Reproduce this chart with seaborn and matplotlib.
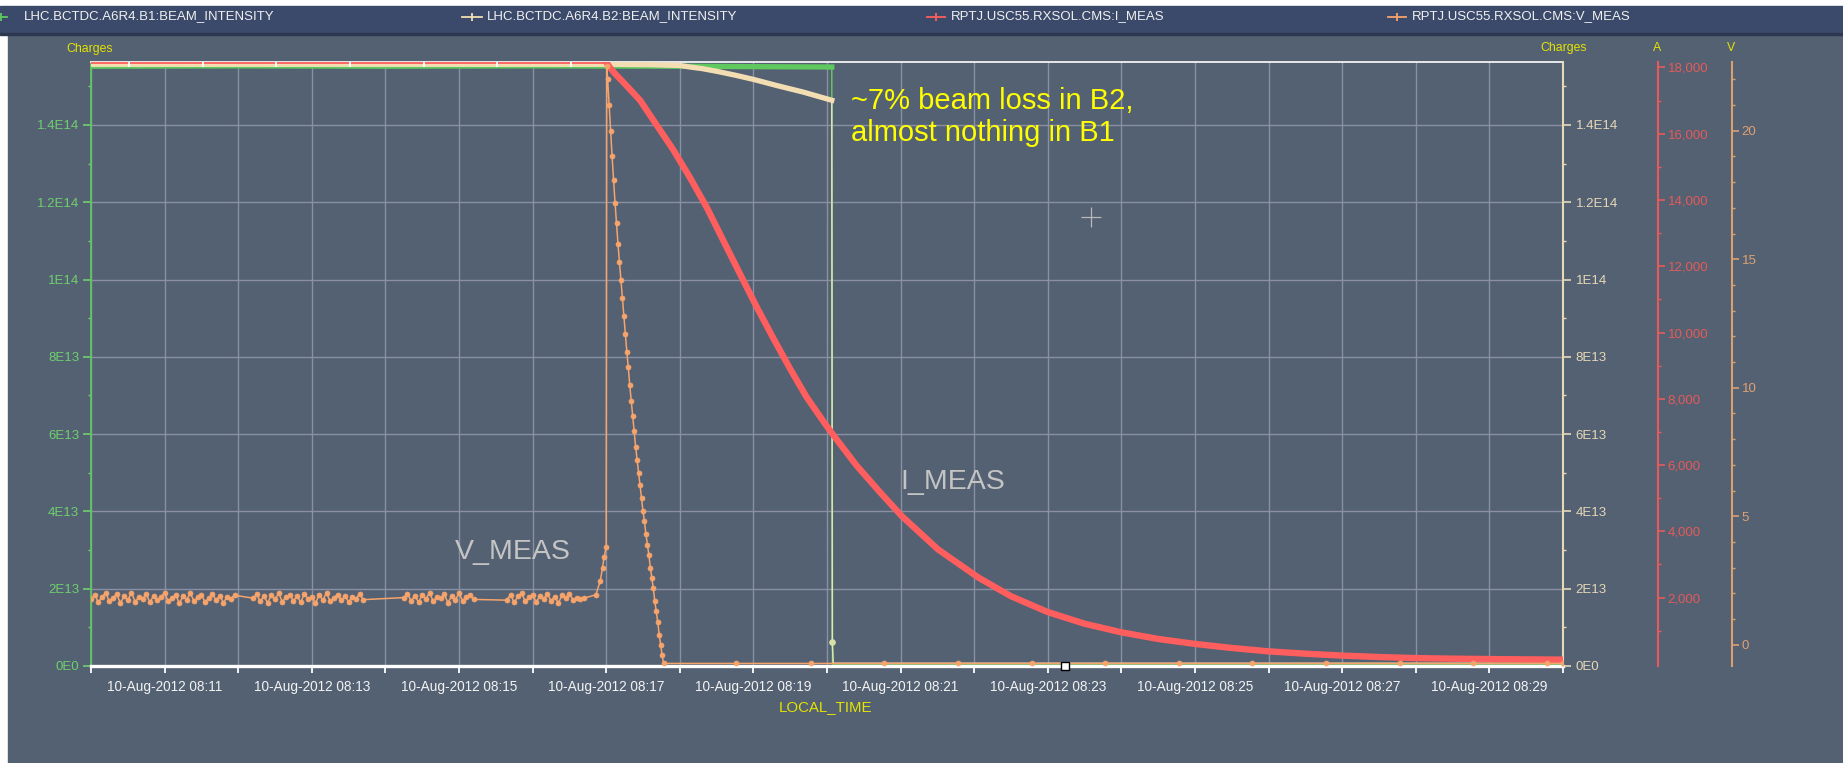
import numpy as np
import pandas as pd
import matplotlib
matplotlib.use("Agg")
import matplotlib.pyplot as plt
import matplotlib.dates as mdates
from matplotlib.ticker import FuncFormatter, FixedLocator, MultipleLocator
from matplotlib.patches import Rectangle
from matplotlib.lines import Line2D
import seaborn as sns

plt.rcParams['font.family'] = ['Liberation Sans', 'DejaVu Sans']

# ---- data (time in minutes after 10-Aug-2012 08:10:00) ----
T0 = pd.Timestamp("2012-08-10 08:10:00")

# B1 beam intensity (charges)
b1_min = [0.0, 2.0, 4.0, 6.0, 8.0, 9.0, 10.065, 10.075, 20.0]
b1_val = [1.552e14, 1.553e14, 1.552e14, 1.553e14, 1.552e14, 1.551e14, 1.550e14, 0.005e14, 0.005e14]

# B2 beam intensity (charges)
b2_min = [0.0, 2.0, 4.0, 6.0, 7.0, 7.6, 8.0, 8.14, 8.3, 8.5, 8.75, 9.0, 9.32, 9.68,
          10.065, 10.072, 10.085, 20.0]
b2_val = [1.557e14, 1.557e14, 1.557e14, 1.557e14, 1.557e14, 1.556e14, 1.554e14, 1.550e14,
          1.546e14, 1.539e14, 1.529e14, 1.518e14, 1.502e14, 1.485e14, 1.464e14,
          0.061e14, 0.007e14, 0.007e14]

# solenoid current I_MEAS (A)
i_min = [0.0, 0.52, 1.52, 2.52, 3.52, 4.52, 5.52, 6.52,
         7.007, 7.05, 7.12, 7.23, 7.46, 7.68, 7.91, 8.14, 8.37, 8.59, 8.82, 9.04, 9.27,
         9.50, 9.72, 9.95, 10.08, 10.40, 10.72, 11.02, 11.51, 12.06, 12.50, 12.99, 13.50,
         14.00, 14.50, 15.00, 15.50, 16.00, 16.50, 17.00, 17.50, 18.00, 18.50, 19.00,
         19.50, 20.00]
i_val = [18140, 18140, 18140, 18140, 18140, 18140, 18140, 18140,
         18140, 18000, 17810, 17560, 17010, 16280, 15520, 14670, 13760, 12780, 11760,
         10790, 9830, 8900, 8060, 7320, 6920, 5990, 5180, 4450, 3450, 2600, 2040, 1570,
         1210, 950, 750, 600, 478, 376, 305, 248, 205, 172, 155, 143, 134, 126]

# solenoid voltage V_MEAS (V): noisy plateau before the discharge
v_pre1_min = [0.00, 0.05, 0.10, 0.15, 0.20, 0.25, 0.30, 0.35, 0.40, 0.45, 0.50, 0.55,
              0.60, 0.65, 0.70, 0.75, 0.80, 0.85, 0.90, 0.95, 1.00, 1.05, 1.10, 1.15,
              1.20, 1.25, 1.30, 1.35, 1.40, 1.45, 1.50, 1.55, 1.60, 1.65, 1.70, 1.75,
              1.80, 1.85, 1.90, 1.95]
v_pre1_val = [1.78, 1.95, 1.66, 1.88, 2.01, 1.70, 1.84, 1.97, 1.63, 1.90, 1.75, 2.03,
              1.68, 1.86, 1.79, 1.99, 1.65, 1.92, 1.73, 1.87, 2.02, 1.69, 1.81, 1.96,
              1.62, 1.89, 1.76, 2.00, 1.71, 1.85, 1.94, 1.67, 1.83, 1.98, 1.74, 1.91,
              1.64, 1.88, 1.80, 1.93]
v_pre2_min = [2.20, 2.25, 2.30, 2.35, 2.40, 2.45, 2.50, 2.55, 2.60, 2.65, 2.70, 2.75,
              2.80, 2.85, 2.90, 2.95, 3.00, 3.05, 3.10, 3.15, 3.20, 3.25, 3.30, 3.35,
              3.40, 3.45, 3.50, 3.55, 3.60, 3.65, 3.70]
v_pre2_val = [1.82, 1.97, 1.70, 1.89, 1.64, 1.93, 1.77, 2.01, 1.68, 1.86, 1.95, 1.72,
              1.90, 1.66, 1.99, 1.79, 1.87, 1.63, 1.94, 1.75, 2.02, 1.69, 1.84, 1.96,
              1.73, 1.91, 1.67, 1.88, 1.80, 1.98, 1.76]
v_pre3_min = [4.25, 4.30, 4.35, 4.40, 4.45, 4.50, 4.55, 4.60, 4.65, 4.70, 4.75, 4.80,
              4.85, 4.90, 4.95, 5.00, 5.05, 5.10, 5.15, 5.20]
v_pre3_val = [1.84, 1.99, 1.71, 1.92, 1.66, 1.95, 1.78, 2.03, 1.69, 1.88, 1.81, 1.97,
              1.64, 1.90, 1.75, 2.00, 1.72, 1.86, 1.93, 1.77]
v_pre4_min = [5.65, 5.70, 5.75, 5.80, 5.85, 5.90, 5.95, 6.00, 6.05, 6.10, 6.15, 6.20,
              6.25, 6.30, 6.35, 6.40, 6.45, 6.50, 6.55, 6.60, 6.65, 6.70]
v_pre4_val = [1.74, 1.96, 1.65, 1.89, 2.01, 1.70, 1.85, 1.94, 1.67, 1.91, 1.79, 1.98,
              1.72, 1.87, 1.63, 1.93, 1.81, 1.99, 1.76, 1.84, 1.80, 1.82]
# rise, fast discharge and tail
v_dis_min = [6.86, 6.92, 6.95, 6.97, 7.0, 7.007,
             7.02, 7.04, 7.06, 7.08, 7.10, 7.12, 7.14, 7.16, 7.18, 7.20, 7.22, 7.24, 7.26,
             7.28, 7.30, 7.32, 7.34, 7.36, 7.38, 7.40, 7.42, 7.44, 7.46, 7.48, 7.50, 7.52,
             7.54, 7.56, 7.58, 7.60, 7.62, 7.64, 7.66, 7.68, 7.70, 7.72, 7.74, 7.76, 7.78,
             8.77, 9.78, 10.78, 11.78, 12.78, 13.78, 14.78, 15.78, 16.78, 17.78, 18.78,
             19.78, 20.0]
v_dis_val = [1.95, 2.5, 3.0, 3.4, 3.8, 22.5,
             22.0, 21.0, 20.0, 19.0, 18.1, 17.2, 16.4, 15.6, 14.9, 14.2, 13.5, 12.8, 12.1,
             11.4, 10.8, 10.1, 9.5, 8.9, 8.3, 7.7, 7.2, 6.7, 6.2, 5.7, 5.2, 4.8,
             4.3, 3.9, 3.5, 3.0, 2.6, 2.2, 1.7, 1.3, 0.9, 0.4, 0.0, -0.4, -0.72,
             -0.72, -0.72, -0.72, -0.72, -0.72, -0.72, -0.72, -0.72, -0.72, -0.72, -0.72,
             -0.72, -0.72]

# cursor artefacts of the viewer
cross_min, cross_val = 13.59, 1.162e14
square_min, square_val = 13.23, 0.0

legend_names = ["LHC.BCTDC.A6R4.B1:BEAM_INTENSITY", "LHC.BCTDC.A6R4.B2:BEAM_INTENSITY",
                "RPTJ.USC55.RXSOL.CMS:I_MEAS", "RPTJ.USC55.RXSOL.CMS:V_MEAS"]

# ---- colours ----
BG = '#536172'
STRIP = '#3b4a6a'
GRID = '#8b8fa3'
GREEN, GREEN_TXT = '#5fc85f', '#6fcf6f'
CREAM, CREAM_TXT = '#f3ddb3', '#e6d8b8'
RED, RED_TXT = '#ff5e5e', '#e65a5a'
ORANGE, ORANGE_TXT = '#f6a46c', '#dfa174'
YEL = '#e4e400'

W, H = 1843, 763


def fx(x):
    return x / W


def fy(y):
    return 1 - y / H


def stamp(mins):
    return T0 + pd.to_timedelta(np.asarray(mins, dtype=float), unit="min")


v_min = v_pre1_min + v_pre2_min + v_pre3_min + v_pre4_min + v_dis_min
v_val = v_pre1_val + v_pre2_val + v_pre3_val + v_pre4_val + v_dis_val

b1 = pd.DataFrame({'time': stamp(b1_min), 'val': b1_val, 'min': b1_min})
b2 = pd.DataFrame({'time': stamp(b2_min), 'val': b2_val, 'min': b2_min})
im = pd.DataFrame({'time': stamp(i_min), 'val': i_val, 'min': i_min})
vm = pd.DataFrame({'time': stamp(v_min), 'val': v_val, 'min': v_min})

fig = plt.figure(figsize=(W / 100, H / 100), dpi=100, facecolor='white')
fig.add_artist(Rectangle((fx(8), 0), 1 - fx(8), fy(35), transform=fig.transFigure,
                         color=BG, zorder=-5))
fig.add_artist(Rectangle((0, fy(33)), 1, fy(6) - fy(33), transform=fig.transFigure,
                         color=STRIP, zorder=-5))
fig.add_artist(Rectangle((0, fy(35)), 1, 2 / H, transform=fig.transFigure,
                         color='#2c3852', zorder=-5))

ax = fig.add_axes([fx(91), fy(666), fx(1563) - fx(91), fy(62) - fy(666)])
ax.set_facecolor(BG)
ax_b2 = ax.twinx()
ax_i = ax.twinx()
ax_v = ax.twinx()

# B1 (left axis)
sns.lineplot(data=b1, x='time', y='val', ax=ax, color=GREEN, lw=1.1,
             estimator=None, sort=False)
sns.lineplot(data=b1[b1['min'] <= 10.065], x='time', y='val', ax=ax, color=GREEN,
             lw=3.8, estimator=None, sort=False)
# B2 (right axis)
sns.lineplot(data=b2, x='time', y='val', ax=ax_b2, color='#dfe6b0', lw=1.1,
             estimator=None, sort=False)
sns.lineplot(data=b2[b2['min'] <= 10.065], x='time', y='val', ax=ax_b2, color=CREAM,
             lw=3.8, estimator=None, sort=False)
sns.lineplot(data=b2[(b2['min'] > 10.07) & (b2['min'] < 10.08)], x='time', y='val',
             ax=ax_b2, color='#d8e0a8', marker='o', ms=4, mec='#d8e0a8', lw=0,
             estimator=None, sort=False)
# I_MEAS
sns.lineplot(data=im[im['min'] <= 7.007], x='time', y='val', ax=ax_i, color=RED, lw=1.3,
             marker='|', ms=6, mew=1.3, markevery=list(range(1, 8)),
             estimator=None, sort=False)
sns.lineplot(data=im[im['min'] >= 7.007], x='time', y='val', ax=ax_i, color=RED, lw=4.6,
             estimator=None, sort=False)
# V_MEAS
sns.lineplot(data=vm, x='time', y='val', ax=ax_v, color=ORANGE, lw=1.1,
             marker='o', ms=3.6, mec=ORANGE, mew=0.5, estimator=None, sort=False)

# cursor marks
ax_v.plot(stamp([cross_min]), [cross_val], transform=ax.transData, marker='+', ms=15,
          mew=0.9, color='#b8b8b8', ls='none')
ax_v.plot(stamp([square_min]), [square_val], transform=ax.transData, marker='s', ms=6,
          mfc='white', mec='black', mew=1, ls='none', clip_on=False, zorder=10)

# ---- axes limits ----
ax.set_xlim(stamp([0.0])[0], stamp([20.0])[0])
for a in (ax, ax_b2):
    a.set_ylim(0, 1.563e14)
ax_i.set_ylim(-66, 18165)
ax_v.set_ylim(-0.82, 22.67)


def charge_fmt(v, pos):
    if v < 0:
        return ""
    if v < 1:
        return "0E0"
    e = int(np.floor(np.log10(v) + 1e-9))
    s = f"{v / 10 ** e:.2f}".rstrip("0").rstrip(".")
    return f"{s}E{e}"


for a in (ax, ax_b2):
    a.yaxis.set_major_locator(MultipleLocator(2e13))
    a.yaxis.set_minor_locator(MultipleLocator(1e13))
    a.yaxis.set_major_formatter(FuncFormatter(charge_fmt))
ax_i.yaxis.set_major_locator(FixedLocator(range(2000, 18001, 2000)))
ax_i.yaxis.set_minor_locator(FixedLocator(range(1000, 18001, 2000)))
ax_i.yaxis.set_major_formatter(FuncFormatter(lambda v, p: f"{int(round(v)):,}"))
ax_v.yaxis.set_major_locator(MultipleLocator(5))
ax_v.yaxis.set_minor_locator(MultipleLocator(1))

ax.xaxis.set_major_locator(mdates.MinuteLocator(byminute=range(11, 60, 2)))
ax.xaxis.set_minor_locator(mdates.MinuteLocator())
ax.xaxis.set_major_formatter(mdates.DateFormatter('%d-%b-%Y %H:%M'))

for a in (ax, ax_b2, ax_i, ax_v):
    a.set_xlabel('')
    a.set_ylabel('')
    for s in a.spines.values():
        s.set_visible(False)

ax.set_axisbelow(True)
ax.grid(True, which='both', axis='x', color=GRID, lw=1.0)
ax.grid(True, which='major', axis='y', color=GRID, lw=1.0)

ax.spines['left'].set_visible(True)
ax.spines['left'].set_color(GREEN)
ax.spines['left'].set_linewidth(1.3)
ax.spines['bottom'].set_visible(True)
ax.spines['bottom'].set_color('white')
ax.spines['bottom'].set_linewidth(2.4)
ax.spines['top'].set_visible(True)
ax.spines['top'].set_color('white')
ax.spines['top'].set_linewidth(1.2)
ax.tick_params(axis='y', which='major', colors=GREEN_TXT, length=6, width=1.2, pad=2.5,
               labelsize=9.5)
ax.tick_params(axis='y', which='minor', colors=GREEN_TXT, length=2.5, width=1.0)
ax.tick_params(axis='x', which='major', colors='white', length=5, width=1.3, pad=5,
               labelsize=9.8, labelcolor='#f2f2f2')
ax.tick_params(axis='x', which='minor', colors='white', length=5, width=1.3)

ax_b2.spines['right'].set_visible(True)
ax_b2.spines['right'].set_color(CREAM_TXT)
ax_b2.spines['right'].set_linewidth(1.5)
ax_b2.tick_params(axis='y', which='major', colors=CREAM_TXT, length=6, width=1.2, pad=3,
                  labelsize=9.5)
ax_b2.tick_params(axis='y', which='minor', colors=CREAM_TXT, length=2.5, width=1.0)

for a, col, txt, off in ((ax_i, '#e8595b', RED_TXT, 68.4), (ax_v, '#dba070', ORANGE_TXT, 121.5)):
    a.spines['right'].set_visible(True)
    a.spines['right'].set_position(('outward', off))
    a.spines['right'].set_color(col)
    a.spines['right'].set_linewidth(1.5)
    a.tick_params(axis='y', which='major', colors=col, labelcolor=txt, length=5, width=1.2,
                  pad=2, labelsize=9.5)
    a.tick_params(axis='y', which='minor', colors=col, length=2.5, width=1.0)

# ---- texts ----
fig.text(fx(826), fy(707), "LOCAL_TIME", color=YEL, fontsize=10.8, ha='center', va='center')
fig.text(fx(90), fy(49), "Charges", color=YEL, fontsize=8.8, ha='center', va='center')
fig.text(fx(1564), fy(48), "Charges", color=YEL, fontsize=8.8, ha='center', va='center')
fig.text(fx(1657), fy(48), "A", color=YEL, fontsize=8.8, ha='center', va='center')
fig.text(fx(1731), fy(48), "V", color=YEL, fontsize=8.8, ha='center', va='center')

fig.text(fx(851), fy(117), "~7% beam loss in B2,\nalmost nothing in B1", color='#ffff00',
         fontsize=21, ha='left', va='center', linespacing=1.22)
fig.text(fx(513), fy(552), "V_MEAS", color='#c4c4c4', fontsize=20.5, ha='center', va='center')
fig.text(fx(953), fy(482), "I_MEAS", color='#c4c4c4', fontsize=20.5, ha='center', va='center')

# legend strip
leg_cols = [GREEN, CREAM, RED, ORANGE]
leg_marks = [(-6, 7), (462, 482), (927, 945), (1388, 1406)]
leg_text_x = [24, 487, 951, 1412]
for name, col, (x0, x1), tx in zip(legend_names, leg_cols, leg_marks, leg_text_x):
    fig.add_artist(Line2D([fx(x0), fx((x0 + x1) / 2), fx(x1)], [fy(17)] * 3,
                          transform=fig.transFigure, color=col, lw=1.3,
                          marker='|', ms=6, mew=1.3, markevery=[1]))
    fig.text(fx(tx), fy(16), name, color='#f0f0f0', fontsize=9.5, ha='left', va='center')

fig.savefig("out.png", dpi=100, facecolor='white')
